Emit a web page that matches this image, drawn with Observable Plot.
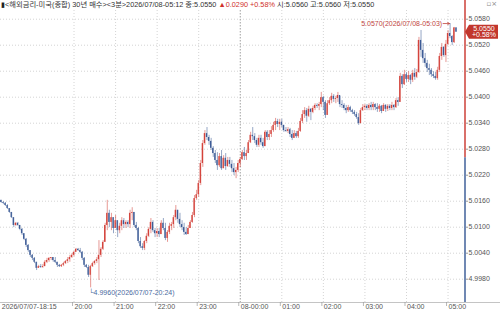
<!DOCTYPE html>
<html><head><meta charset="utf-8">
<script src="https://cdn.jsdelivr.net/npm/d3@7"></script>
<script src="https://cdn.jsdelivr.net/npm/@observablehq/plot@0.6"></script>
<style>
body{margin:0;background:#fff;}
#wrap{position:relative;width:500px;height:314px;overflow:hidden;background:#fff;}
#title{position:absolute;left:1px;top:0px;font:7.3px "Liberation Sans","Noto Sans CJK KR",sans-serif;color:#333;white-space:nowrap;line-height:10px;z-index:2;}
#title .red{color:#d0302a;}
#title .mk{color:#222;}
#icons{position:absolute;right:3px;top:0px;font:7px "DejaVu Sans",sans-serif;color:#888;line-height:9px;z-index:2;}
</style></head>
<body><div id="wrap">
<div id="title"><span class="mk">▮</span>&lt;해외금리-미국(종합) 30년 매수&gt;&lt;3분&gt;2026/07/08-05:12 종:5.0550 <span class="red">▲0.0290 +0.58%</span> 시:5.0560 고:5.0560 저:5.0550</div>
<div id="icons">▫×</div>
</div>
<script>
// ---- data (3-minute bars, 2026/07/07-18:15 .. 2026/07/08-05:12) ----
const firstOpen = 5.0162;
const prevClose = 5.0260;
const lastPrice = 5.0550;
const lastChange = "+0.58%";
const high = [
5.0162,5.0159,5.0157,5.0152,5.0143,5.0134,5.0122,5.0111,5.0111,5.0104,
5.0097,5.0085,5.0074,5.0060,5.0046,5.0037,5.0030,5.0019,5.0012,5.0014,
5.0014,5.0023,5.0028,5.0030,5.0030,5.0030,5.0030,5.0019,5.0014,5.0014,
5.0019,5.0023,5.0030,5.0035,5.0039,5.0044,5.0051,5.0051,5.0051,5.0044,
5.0030,5.0014,5.0012,5.0012,5.0019,5.0023,5.0030,5.0069,5.0053,5.0069,
5.0109,5.0162,5.0139,5.0132,5.0122,5.0127,5.0115,5.0109,5.0122,5.0120,
5.0115,5.0115,5.0139,5.0145,5.0134,5.0111,5.0099,5.0076,5.0062,5.0069,
5.0085,5.0099,5.0120,5.0115,5.0097,5.0097,5.0097,5.0115,5.0120,5.0109,
5.0092,5.0109,5.0111,5.0127,5.0150,5.0139,5.0132,5.0115,5.0109,5.0099,
5.0104,5.0115,5.0134,5.0173,5.0185,5.0208,5.0254,5.0300,5.0323,5.0330,
5.0312,5.0305,5.0286,5.0277,5.0272,5.0270,5.0277,5.0265,5.0270,5.0261,
5.0261,5.0254,5.0247,5.0238,5.0254,5.0261,5.0277,5.0284,5.0277,5.0300,
5.0319,5.0330,5.0316,5.0305,5.0312,5.0312,5.0305,5.0323,5.0323,5.0323,
5.0332,5.0342,5.0351,5.0349,5.0349,5.0349,5.0335,5.0330,5.0330,5.0328,
5.0323,5.0323,5.0321,5.0328,5.0351,5.0369,5.0376,5.0374,5.0379,5.0374,
5.0379,5.0385,5.0385,5.0388,5.0411,5.0402,5.0392,5.0392,5.0399,5.0409,
5.0406,5.0402,5.0411,5.0402,5.0392,5.0385,5.0381,5.0381,5.0379,5.0372,
5.0369,5.0365,5.0362,5.0374,5.0383,5.0383,5.0383,5.0385,5.0388,5.0388,
5.0385,5.0385,5.0383,5.0381,5.0385,5.0383,5.0383,5.0383,5.0388,5.0383,
5.0397,5.0399,5.0455,5.0452,5.0462,5.0457,5.0459,5.0452,5.0462,5.0466,
5.0464,5.0538,5.0554,5.0524,5.0501,5.0485,5.0476,5.0466,5.0459,5.0457,
5.0469,5.0501,5.0524,5.0517,5.0531,5.0554,5.0570,5.0542,5.0561,5.0560];
const low = [
5.0155,5.0152,5.0148,5.0141,5.0132,5.0120,5.0099,5.0102,5.0102,5.0092,
5.0081,5.0069,5.0053,5.0042,5.0030,5.0023,5.0016,5.0000,5.0005,5.0005,
5.0005,5.0009,5.0016,5.0019,5.0023,5.0019,5.0016,5.0007,5.0007,5.0007,
5.0009,5.0014,5.0016,5.0019,5.0028,5.0032,5.0042,5.0044,5.0039,5.0023,
5.0007,5.0005,4.9984,4.9960,5.0007,5.0012,5.0016,4.9977,5.0030,5.0046,
5.0065,5.0092,5.0099,5.0092,5.0085,5.0097,5.0076,5.0085,5.0092,5.0097,
5.0097,5.0099,5.0097,5.0115,5.0099,5.0092,5.0062,5.0051,5.0046,5.0046,
5.0062,5.0076,5.0085,5.0088,5.0076,5.0076,5.0076,5.0083,5.0092,5.0069,
5.0065,5.0083,5.0092,5.0097,5.0115,5.0109,5.0099,5.0092,5.0081,5.0081,
5.0083,5.0097,5.0109,5.0122,5.0162,5.0169,5.0196,5.0238,5.0289,5.0300,
5.0289,5.0277,5.0261,5.0247,5.0231,5.0238,5.0231,5.0235,5.0231,5.0238,
5.0238,5.0226,5.0219,5.0212,5.0226,5.0238,5.0254,5.0254,5.0254,5.0270,
5.0293,5.0300,5.0293,5.0284,5.0284,5.0289,5.0282,5.0286,5.0300,5.0300,
5.0307,5.0319,5.0323,5.0330,5.0323,5.0330,5.0319,5.0319,5.0316,5.0307,
5.0300,5.0305,5.0305,5.0305,5.0319,5.0339,5.0351,5.0342,5.0353,5.0346,
5.0362,5.0369,5.0374,5.0369,5.0376,5.0369,5.0351,5.0358,5.0381,5.0385,
5.0388,5.0385,5.0388,5.0376,5.0374,5.0369,5.0362,5.0365,5.0365,5.0360,
5.0356,5.0349,5.0335,5.0339,5.0367,5.0369,5.0369,5.0369,5.0369,5.0369,
5.0369,5.0365,5.0365,5.0362,5.0367,5.0365,5.0367,5.0369,5.0369,5.0369,
5.0374,5.0379,5.0388,5.0420,5.0427,5.0434,5.0434,5.0429,5.0434,5.0439,
5.0443,5.0455,5.0492,5.0478,5.0469,5.0457,5.0450,5.0446,5.0443,5.0439,
5.0439,5.0457,5.0485,5.0492,5.0480,5.0519,5.0535,5.0519,5.0524,5.0550];
const close = [
5.0157,5.0155,5.0150,5.0143,5.0134,5.0122,5.0104,5.0109,5.0104,5.0095,
5.0085,5.0072,5.0058,5.0046,5.0035,5.0028,5.0019,5.0005,5.0009,5.0007,
5.0009,5.0019,5.0023,5.0028,5.0030,5.0023,5.0019,5.0012,5.0009,5.0012,
5.0016,5.0021,5.0025,5.0030,5.0035,5.0042,5.0049,5.0046,5.0042,5.0028,
5.0012,5.0007,4.9989,5.0009,5.0016,5.0021,5.0025,5.0035,5.0049,5.0065,
5.0104,5.0132,5.0111,5.0122,5.0097,5.0115,5.0092,5.0102,5.0115,5.0106,
5.0111,5.0106,5.0132,5.0134,5.0104,5.0097,5.0067,5.0055,5.0051,5.0067,
5.0079,5.0095,5.0111,5.0092,5.0085,5.0090,5.0083,5.0109,5.0097,5.0074,
5.0088,5.0102,5.0106,5.0122,5.0139,5.0118,5.0106,5.0099,5.0088,5.0083,
5.0097,5.0111,5.0127,5.0166,5.0175,5.0201,5.0247,5.0293,5.0316,5.0307,
5.0298,5.0282,5.0270,5.0254,5.0242,5.0263,5.0235,5.0259,5.0240,5.0254,
5.0245,5.0235,5.0226,5.0231,5.0247,5.0256,5.0272,5.0263,5.0270,5.0295,
5.0312,5.0309,5.0300,5.0289,5.0305,5.0295,5.0286,5.0319,5.0307,5.0314,
5.0323,5.0335,5.0344,5.0337,5.0342,5.0335,5.0323,5.0321,5.0325,5.0314,
5.0305,5.0316,5.0309,5.0321,5.0344,5.0360,5.0369,5.0356,5.0372,5.0365,
5.0374,5.0381,5.0379,5.0383,5.0399,5.0388,5.0358,5.0385,5.0392,5.0402,
5.0395,5.0397,5.0404,5.0383,5.0381,5.0374,5.0369,5.0376,5.0369,5.0365,
5.0360,5.0353,5.0339,5.0369,5.0376,5.0379,5.0374,5.0381,5.0376,5.0383,
5.0376,5.0372,5.0379,5.0367,5.0381,5.0372,5.0379,5.0374,5.0381,5.0376,
5.0392,5.0388,5.0448,5.0429,5.0452,5.0441,5.0450,5.0439,5.0455,5.0446,
5.0457,5.0531,5.0508,5.0489,5.0478,5.0466,5.0462,5.0452,5.0448,5.0443,
5.0462,5.0494,5.0515,5.0496,5.0522,5.0547,5.0540,5.0526,5.0560,5.0550];
// tick labels
const xTickIdx = [0, 35, 55, 75, 95, 115, 135, 155, 175, 195, 215];
const xTickLabels = ["2026/07/07-18:15","20:00","21:00","22:00","23:00","08-00:00","01:00","02:00","03:00","04:00","05:00"];
const yTicks = [4.9980,5.0040,5.0100,5.0160,5.0220,5.0280,5.0340,5.0400,5.0460,5.0520,5.0580];
const dayChangeIdx = 115;
const hiNote = {i: 216, v: 5.0570, text: "5.0570(2026/07/08-05:03)"};
const loNote = {i: 43, v: 4.9960, text: "└4.9960(2026/07/07-20:24)"};

// ---- build ----
const RED = "#d0342c", BLUE = "#2e4f8e";
const bars = close.map((c, i) => {
  const o = i === 0 ? firstOpen : close[i - 1];
  return {i, open: o, close: c, high: high[i], low: low[i], up: c >= o};
});
const xDomain = [-0.385, 223.4];
const yDomain = [4.99262, 5.06001];

const chart = Plot.plot({
  width: 500, height: 314,
  marginTop: 10, marginBottom: 12, marginLeft: 0, marginRight: 35,
  x: {domain: xDomain, axis: null},
  y: {domain: yDomain, axis: null},
  style: {fontFamily: "'Liberation Sans','Noto Sans CJK KR',sans-serif", fontSize: "7px", background: "transparent", overflow: "visible"},
  marks: [
    Plot.ruleY(yTicks, {stroke: "#d4d4d4", strokeDasharray: "1,2"}),
    Plot.ruleX(xTickIdx.filter(d => d !== 0 && d !== dayChangeIdx), {stroke: "#d4d4d4", strokeDasharray: "1,2"}),
    Plot.ruleX([dayChangeIdx], {stroke: "#a0a0a0", strokeDasharray: "1.5,1.5"}),
    Plot.ruleX(bars, {x: "i", y1: "low", y2: "high", stroke: d => d.up ? RED : BLUE, strokeOpacity: 0.5, strokeWidth: 1}),
    Plot.rect(bars, {x1: d => d.i - 0.32, x2: d => d.i + 0.32, y1: d => Math.min(d.open, d.close), y2: d => Math.max(d.open, d.close), fill: d => d.up ? RED : BLUE, fillOpacity: 0.9}),
    Plot.axisY({anchor: "right", ticks: yTicks, tickFormat: d => d.toFixed(4), tickSize: 2, tickPadding: 1, fontSize: 7, fill: "#555", stroke: "#999"}),
    Plot.text([hiNote], {x: "i", y: "v", text: "text", textAnchor: "end", dx: -8, fill: "#c0463e", fontSize: 7}),
    Plot.arrow([hiNote], {x1: d => d.i - 3.4, x2: d => d.i - 0.3, y1: "v", y2: "v", stroke: "#c0463e", strokeWidth: 0.8, headLength: 4, bend: 0}),
    Plot.text([loNote], {x: "i", y: "v", text: "text", textAnchor: "start", dx: -2, dy: 5, fill: "#4a6aa0", fontSize: 7}),
    Plot.text(xTickIdx, {x: d => d, text: (d, k) => xTickLabels[k], frameAnchor: "bottom", textAnchor: "start", dy: 6, dx: 0.5, fill: "#555", fontSize: 7})
  ]
});
document.getElementById("wrap").appendChild(chart);
chart.style.position = "absolute"; chart.style.left = "0"; chart.style.top = "0";

// decorations placed with the chart's own scales
const X = chart.scale("x"), Y = chart.scale("y");
const svg = d3.select(chart);
const axX = X.apply(xDomain[1]);
const yBot = Y.apply(yDomain[0]);
const yPrev = Y.apply(prevClose);
svg.append("line").attr("x1", 0).attr("x2", 500).attr("y1", yBot + 0.5).attr("y2", yBot + 0.5).attr("stroke", "#c4c4c4");
svg.selectAll(".sep").data(xTickIdx.slice(1)).join("line").attr("x1", d => X.apply(d) - 1).attr("x2", d => X.apply(d) - 1).attr("y1", yBot).attr("y2", yBot + 4).attr("stroke", "#999").attr("stroke-width", 0.7);
svg.append("line").attr("x1", axX).attr("x2", axX).attr("y1", 0).attr("y2", yPrev).attr("stroke", "#cc4038").attr("stroke-width", 1.5);
svg.append("line").attr("x1", axX).attr("x2", axX).attr("y1", yPrev).attr("y2", yBot).attr("stroke", "#40609a").attr("stroke-width", 1.5);
const yl = Y.apply(lastPrice);
const tag = svg.append("g");
tag.append("path").attr("d", `M${axX},${yl} L${axX + 4},${yl - 7} L${axX + 33},${yl - 7} L${axX + 33},${yl + 7} L${axX + 4},${yl + 7} Z`).attr("fill", "#c2362c");
tag.append("text").attr("x", axX + 19).attr("y", yl - 3).attr("text-anchor", "middle").attr("dominant-baseline", "middle").attr("fill", "#fff").attr("font-size", 7).text(lastPrice.toFixed(4));
tag.append("text").attr("x", axX + 19).attr("y", yl + 3.5).attr("text-anchor", "middle").attr("dominant-baseline", "middle").attr("fill", "#fff").attr("font-size", 7).text(lastChange);
</script>
</body></html>
